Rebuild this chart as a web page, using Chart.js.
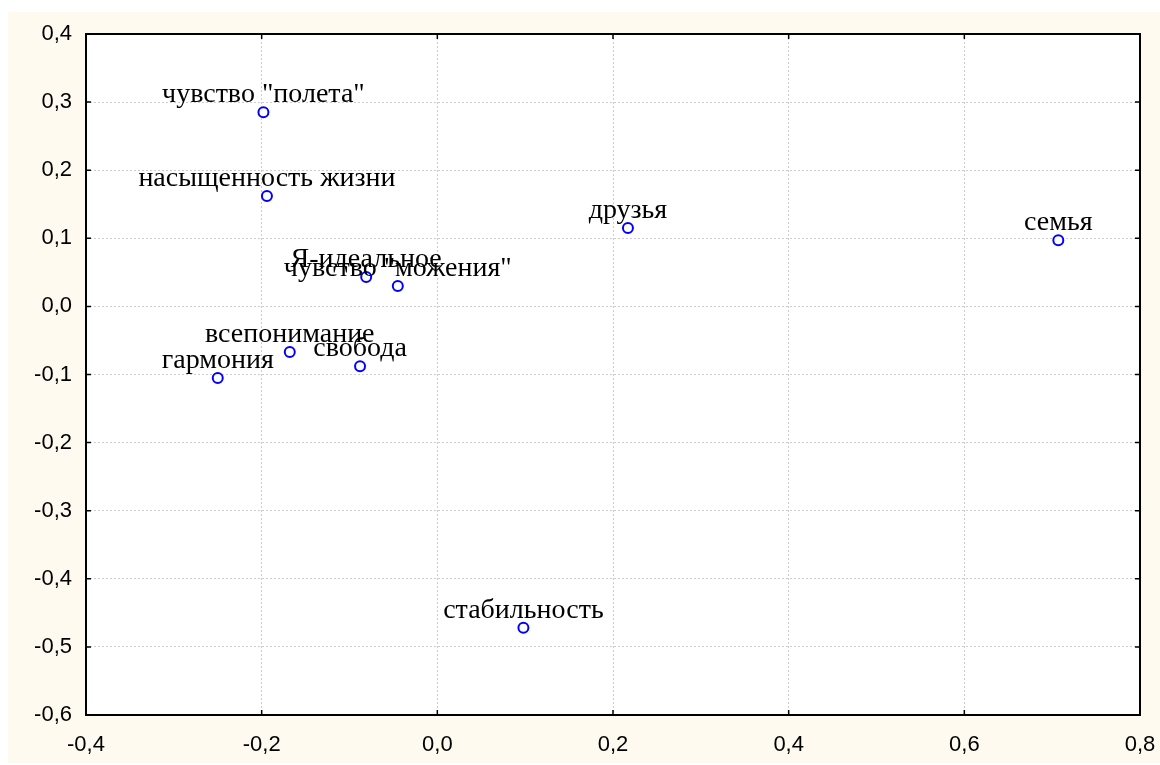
<!DOCTYPE html>
<html>
<head>
<meta charset="utf-8">
<script src="https://cdn.jsdelivr.net/npm/chart.js@4"></script>
<style>
  html, body { margin: 0; padding: 0; background: #fff; }
  #wrap { position: relative; width: 1160px; height: 765px; }
</style>
</head>
<body>
<div id="wrap"><canvas id="plot" width="1160" height="765"></canvas></div>
<script>
// подписи точек и координаты
const labels = ['чувство "полета"', "насыщенность жизни", "друзья", "семья", "Я-идеальное", 'чувство "можения"', "всепонимание", "свобода", "гармония", "стабильность"];
const xValues = [-0.198, -0.194, 0.217, 0.707, -0.081, -0.045, -0.168, -0.088, -0.250, 0.098];
const yValues = [0.285, 0.162, 0.115, 0.097, 0.043, 0.030, -0.067, -0.088, -0.105, -0.472];

const xTicks = [-0.4, -0.2, 0.0, 0.2, 0.4, 0.6, 0.8];
const yTicks = [0.4, 0.3, 0.2, 0.1, 0.0, -0.1, -0.2, -0.3, -0.4, -0.5, -0.6];

const fmt = (v) => v.toFixed(1).replace(".", ",");

// фон и рамка
const backdrop = {
  id: "backdrop",
  beforeDraw(chart) {
    const ctx = chart.ctx;
    ctx.save();
    ctx.fillStyle = "#fffaf0";
    ctx.fillRect(8, 12, chart.width - 8, chart.height - 14);
    const a = chart.chartArea;
    ctx.fillStyle = "#ffffff";
    ctx.fillRect(a.left, a.top, a.right - a.left, a.bottom - a.top);
    ctx.restore();
  },
  afterDraw(chart) {
    const ctx = chart.ctx;
    const a = chart.chartArea;
    const xs = chart.scales.x;
    const ys = chart.scales.y;
    ctx.save();
    ctx.strokeStyle = "#000";
    ctx.lineWidth = 2;
    ctx.strokeRect(a.left, a.top, a.right - a.left, a.bottom - a.top);
    ctx.lineWidth = 1.5;
    ctx.beginPath();
    xTicks.forEach((t) => {
      const px = xs.getPixelForValue(t);
      ctx.moveTo(px, a.top); ctx.lineTo(px, a.top + 5);
      ctx.moveTo(px, a.bottom); ctx.lineTo(px, a.bottom - 5);
    });
    yTicks.forEach((t) => {
      const py = ys.getPixelForValue(t);
      ctx.moveTo(a.left, py); ctx.lineTo(a.left + 5, py);
      ctx.moveTo(a.right, py); ctx.lineTo(a.right - 5, py);
    });
    ctx.stroke();
    ctx.restore();
  },
};

// подписи над точками
const pointLabels = {
  id: "pointLabels",
  afterDatasetsDraw(chart) {
    const ctx = chart.ctx;
    const meta = chart.getDatasetMeta(0);
    ctx.save();
    ctx.font = '28px "Liberation Serif", "Times New Roman", serif';
    ctx.fillStyle = "#000";
    ctx.textAlign = "center";
    ctx.textBaseline = "alphabetic";
    meta.data.forEach((pt, i) => {
      ctx.fillText(labels[i], pt.x, pt.y - 10);
    });
    ctx.restore();
  },
};

new Chart(document.getElementById("plot"), {
  type: "scatter",
  data: {
    datasets: [
      {
        data: xValues.map((x, i) => ({ x: x, y: yValues[i] })),
        pointRadius: 5,
        pointBorderWidth: 2,
        pointBorderColor: "#0000ff",
        pointBackgroundColor: "#ffffff",
      },
    ],
  },
  options: {
    responsive: false,
    animation: false,
    layout: { padding: { top: 34, right: 20, left: 0, bottom: 0 } },
    plugins: { legend: { display: false }, tooltip: { enabled: false } },
    scales: {
      x: {
        min: -0.4,
        max: 0.8,
        afterBuildTicks: (s) => { s.ticks = xTicks.map((v) => ({ value: v })); },
        afterFit: (s) => { s.height = 50; s.paddingLeft = 0; s.paddingRight = 0; },
        ticks: { color: "#000", padding: 17, font: { family: '"Liberation Sans", Arial, sans-serif', size: 22 }, callback: (v) => fmt(v) },
        grid: { color: "#cccccc", drawTicks: false },
        border: { display: false, dash: [2, 2] },
      },
      y: {
        min: -0.6,
        max: 0.4,
        afterBuildTicks: (s) => { s.ticks = yTicks.map((v) => ({ value: v })); },
        afterFit: (s) => { s.width = 86; s.paddingTop = 0; s.paddingBottom = 0; },
        ticks: { color: "#000", padding: 14, font: { family: '"Liberation Sans", Arial, sans-serif', size: 22 }, callback: (v) => fmt(v) },
        grid: { color: "#cccccc", drawTicks: false },
        border: { display: false, dash: [2, 2] },
      },
    },
  },
  plugins: [backdrop, pointLabels],
});
</script>
</body>
</html>
